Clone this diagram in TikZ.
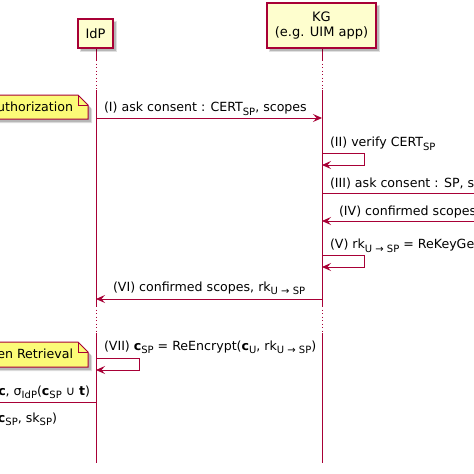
\documentclass[tikz,border=0pt]{standalone}
\usepackage{fontspec}
\setmainfont{DejaVu Sans}
\usetikzlibrary{arrows.meta}
\definecolor{plborder}{HTML}{A80036}
\definecolor{plfill}{HTML}{FEFECE}
\definecolor{plnote}{HTML}{FBFB77}
\newcommand\subt[1]{\raisebox{-3.8pt}{\fontsize{10}{10}\selectfont #1}}
\begin{document}
\begin{tikzpicture}[x=1pt,y=-1pt,
  every node/.style={font=\fontsize{12.6}{15}\selectfont, inner sep=0pt, outer sep=0pt},
  lbl/.style={anchor=base west},
  lblr/.style={anchor=base east},
  msg/.style={draw=plborder, line width=1pt, -{Stealth[length=9pt,width=8pt,inset=3.5pt]}},
  life/.style={draw=plborder, line width=1pt},
  lifedot/.style={draw=plborder, line width=1pt, dash pattern=on 1pt off 2.5pt},
  box/.style={draw=plborder, fill=plfill, line width=1.4pt},
  notebox/.style={draw=plborder, fill=plnote, line width=1pt},
  shade1/.style={fill=black, opacity=0.12},
  shade2/.style={fill=black, opacity=0.18}]
\useasboundingbox (0,0) rectangle (474,474);
\clip (0,0) rectangle (474,474);
\fill[white] (0,0) rectangle (474,474);

% lifelines
\coordinate (idpA) at (96,48);
\coordinate (idpB) at (96,60);
\coordinate (idpC) at (96,90);
\coordinate (idpD) at (96,306);
\coordinate (idpE) at (96,333);
\coordinate (idpF) at (96,463);
\coordinate (kgA) at (322,48);
\coordinate (kgB) at (322,60);
\coordinate (kgC) at (322,90);
\coordinate (kgD) at (322,306);
\coordinate (kgE) at (322,333);
\coordinate (kgF) at (322,463);
\draw[life] (idpA) -- (idpB);
\draw[lifedot] (idpB) -- (idpC);
\draw[life] (idpC) -- (idpD);
\draw[lifedot] (idpD) -- (idpE);
\draw[life] (idpE) -- (idpF);
\draw[life] (kgA) -- (kgB);
\draw[lifedot] (kgB) -- (kgC);
\draw[life] (kgC) -- (kgD);
\draw[lifedot] (kgD) -- (kgE);
\draw[life] (kgE) -- (kgF);

% participants with shadows
\fill[shade1] (80,21) rectangle (117,52);
\fill[shade2] (81,22) rectangle (116,51);
\node[box, minimum width=35pt, minimum height=29pt, font=\fontsize{13}{15}\selectfont] (idp) at (95.5,33.5) {IdP};
\fill[shade1] (269,5) rectangle (380,52);
\fill[shade2] (270,6) rectangle (379,51);
\node[box, minimum width=109pt, minimum height=45pt, align=center, font=\fontsize{13}{15}\selectfont] (kg) at (321.5,25.5) {KG\\(e.g. UIM app)};

% note 1
\fill[shade1] (-5,98) -- (81,98) -- (92,109) -- (92,123) -- (-5,123) -- cycle;
\fill[shade2] (-5,97) -- (80,97) -- (91,108) -- (91,122) -- (-5,122) -- cycle;
\draw[notebox] (-5,95) -- (78,95) -- (88,105) -- (88,119) -- (-5,119) -- cycle;
\draw[plborder, line width=1pt] (78,95) -- (78,105) -- (88,105);
\node[lblr] (n1) at (73,111.5) {Authorization};

% note 2
\fill[shade1] (-5,345) -- (81,345) -- (92,356) -- (92,371) -- (-5,371) -- cycle;
\fill[shade2] (-5,344) -- (80,344) -- (91,355) -- (91,370) -- (-5,370) -- cycle;
\draw[notebox] (-5,342) -- (78,342) -- (88,352) -- (88,367) -- (-5,367) -- cycle;
\draw[plborder, line width=1pt] (78,342) -- (78,352) -- (88,352);
\node[lblr] (n2) at (73,358) {Token Retrieval};

% (I)
\coordinate (m1s) at (96,118);
\coordinate (m1e) at (322,118);
\draw[msg] (m1s) -- (m1e);
\node[lbl] (l1) at (104,111.5) {(I) ask consent : CERT\subt{SP}, scopes};

% (II)
\coordinate (m2s) at (322,153);
\coordinate (m2e) at (322,165);
\draw[msg] (m2s) -- ++(42,0) -- ++(0,12) -- (m2e);
\node[lbl] (l2) at (330,146.5) {(II) verify CERT\subt{SP}};

% (III)
\coordinate (m3s) at (322,193);
\coordinate (m3e) at (490,193);
\draw[msg] (m3s) -- (m3e);
\node[lbl] (l3) at (330,187) {(III) ask consent : SP, scopes};

% (IV)
\coordinate (m4s) at (490,221);
\coordinate (m4e) at (322,221);
\draw[msg] (m4s) -- (m4e);
\node[lbl] (l4) at (339,215.5) {(IV) confirmed scopes};

% (V)
\coordinate (m5s) at (322,255);
\coordinate (m5e) at (322,267);
\draw[msg] (m5s) -- ++(42,0) -- ++(0,12) -- (m5e);
\node[lbl] (l5) at (330,248.5) {(V) rk\subt{U → SP} = ReKeyGen};

% (VI)
\coordinate (m6s) at (322,299);
\coordinate (m6e) at (96,299);
\draw[msg] (m6s) -- (m6e);
\node[lbl] (l6) at (113,291) {(VI) confirmed scopes, rk\subt{U → SP}};

% (VII)
\coordinate (m7s) at (96,358);
\coordinate (m7e) at (96,370);
\draw[msg] (m7s) -- ++(43,0) -- ++(0,12) -- (m7e);
\node[lbl] (l7) at (104,350) {(VII) \textbf{c}\subt{SP} = ReEncrypt(\textbf{c}\subt{U}, rk\subt{U → SP})};

% outgoing message from IdP
\coordinate (m8s) at (96,402);
\coordinate (m8e) at (-20,402);
\draw[msg] (m8s) -- (m8e);
\node[lblr] (l8) at (90,395) {\textbf{c}, σ\subt{IdP}(\textbf{c}\subt{SP} ∪ \textbf{t})};

\node[lblr] (l9) at (57,422) {\textbf{c}\subt{SP}, sk\subt{SP})};
\end{tikzpicture}
\end{document}
